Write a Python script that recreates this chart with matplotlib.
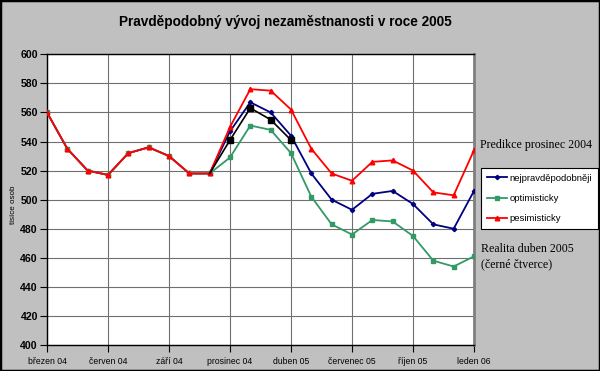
import matplotlib
matplotlib.use("Agg")
import matplotlib.pyplot as plt
from matplotlib.patches import Rectangle
import numpy as np

# ---- data ----
tick_labels = ["březen 04", "červen 04", "září 04", "prosinec 04",
               "duben 05", "červenec 05", "říjen 05", "leden 06"]
common = [560, 535, 520, 517, 532, 536, 530, 518, 518]
blue_tail = [547, 567, 560, 544, 518, 500, 493, 504, 506, 497, 483, 480, 506]
green_tail = [529, 551, 548, 532, 502, 483, 476, 486, 485, 475, 458, 454, 461]
red_tail = [550, 576, 575, 562, 535, 518, 513, 526, 527, 520, 505, 503, 534]
reality = [518, 541, 563, 555, 541]   # starts at index 8
series_names = ["nejpravděpodobněji", "optimisticky", "pesimisticky"]

blue = common + blue_tail
green = common + green_tail
red = common + red_tail
x = np.arange(len(blue))
x_real = np.arange(8, 8 + len(reality))

W, H = 600, 371
fig = plt.figure(figsize=(W / 100, H / 100), dpi=100)
fig.patch.set_facecolor("#C0C0C0")
plt.rcParams['font.family'] = ['Liberation Sans', 'DejaVu Sans']

ax = fig.add_axes([47 / W, (H - 345) / H, (474 - 47) / W, (345 - 54.3) / H])
ax.set_facecolor("white")

ax.plot(x, blue, color="#000080", lw=1.3, marker="D", ms=2.2, label=series_names[0], zorder=3)
ax.plot(x, green, color="#339966", lw=1.3, marker="s", ms=2.8, mec="#339966", label=series_names[1], zorder=3)
ax.plot(x, red, color="#FF0000", lw=1.3, marker="^", ms=3.3, label=series_names[2], zorder=4)
ax.plot(x_real, reality, color="black", lw=1.2, marker="s", ms=4.8, markevery=list(range(1, len(reality))), zorder=5)

ax.set_xlim(0, len(blue) - 1)
ax.set_ylim(400, 600)
ax.set_yticks(np.arange(400, 601, 20))
ax.set_xticks(np.arange(0, len(blue), 3))
ax.set_xticklabels(tick_labels, fontsize=6.2)
ax.tick_params(axis="y", labelsize=7.6, length=5, width=0.8, pad=1.5)
ax.tick_params(axis="x", length=5, width=0.8, pad=4)
for lab in ax.get_yticklabels():
    lab.set_fontweight("bold")
ax.grid(True, color="#707070", lw=0.8)
ax.set_axisbelow(True)
for s in ["left", "bottom", "top"]:
    ax.spines[s].set_color("black")
    ax.spines[s].set_linewidth(1)
ax.spines["right"].set_color("#808080")
ax.spines["right"].set_linewidth(2)

fig.text(14 / W, 1 - 205 / H, "tisíce osob", rotation=90, fontsize=5.8,
         ha="center", va="center")
fig.text(285 / W, 1 - 22 / H, "Pravděpodobný vývoj nezaměstnanosti v roce 2005",
         fontsize=9.8, fontweight="bold", ha="center", va="center")

serif = ["Liberation Serif", "DejaVu Serif"]
fig.text(480 / W, 1 - 145 / H, "Predikce prosinec 2004", family=serif,
         fontsize=8.6, ha="left", va="center")
fig.text(481 / W, 1 - 249 / H, "Realita duben 2005", family=serif,
         fontsize=8.6, ha="left", va="center")
fig.text(481 / W, 1 - 264 / H, "(černé čtverce)", family=serif,
         fontsize=8.6, ha="left", va="center")

leg = fig.legend(loc="upper left", bbox_to_anchor=(481 / W, 1 - 168 / H),
                 fontsize=6.8, frameon=True, fancybox=False, edgecolor="black",
                 framealpha=1, facecolor="white", borderaxespad=0,
                 handlelength=2.2, handletextpad=0.2, labelspacing=1.2,
                 borderpad=0.6)
leg.get_frame().set_linewidth(0.8)

fig.patches.append(Rectangle((0, 0), 1, 1, transform=fig.transFigure,
                             fill=False, edgecolor="black", lw=2.5))

fig.savefig("out.png", dpi=100, facecolor=fig.get_facecolor())
